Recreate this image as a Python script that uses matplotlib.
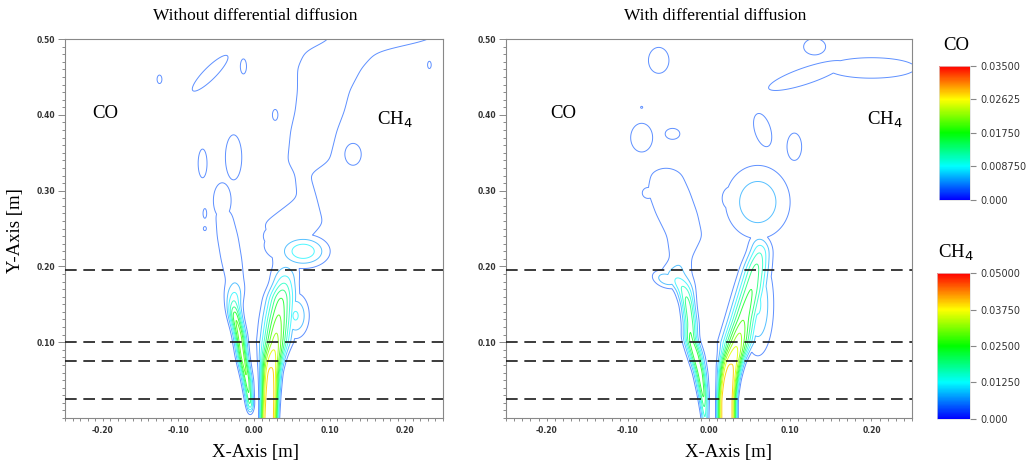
import numpy as np
import matplotlib
matplotlib.use('Agg')
import matplotlib.pyplot as plt
from matplotlib.colors import LinearSegmentedColormap, Normalize
from matplotlib.cm import ScalarMappable
from matplotlib.ticker import MultipleLocator, FixedLocator

plt.rcParams['axes.unicode_minus'] = False

# ---- colour scales -------------------------------------------------------
CO_MAX = 0.035
CH4_MAX = 0.05
co_ticks = [0.0, 0.00875, 0.0175, 0.02625, 0.035]
co_tick_labels = ['0.000', '0.008750', '0.01750', '0.02625', '0.03500']
ch4_ticks = [0.0, 0.0125, 0.025, 0.0375, 0.05]
ch4_tick_labels = ['0.000', '0.01250', '0.02500', '0.03750', '0.05000']

# iso-levels as a fraction of the colour-scale maximum
level_fracs = np.arange(0.08, 0.95, 0.08)

# measurement heights (dashed lines), m
probe_heights = [0.025, 0.075, 0.10, 0.195]

# ---- jet centre-lines: height, centre x, width, peak (fraction of max), profile power
# without differential diffusion, CH4
wo_ch4_y = [0.000, 0.030, 0.060, 0.080, 0.100, 0.130, 0.160, 0.180, 0.200, 0.230, 0.257,
            0.291, 0.322, 0.339, 0.379, 0.405, 0.432, 0.462, 0.484, 0.500]
wo_ch4_x = [0.020, 0.021, 0.022, 0.024, 0.028, 0.032, 0.036, 0.040, 0.042, 0.045, 0.052,
            0.070, 0.064, 0.072, 0.079, 0.087, 0.092, 0.100, 0.115, 0.170]
wo_ch4_w = [0.0095, 0.0095, 0.010, 0.011, 0.012, 0.013, 0.013, 0.012, 0.015, 0.025, 0.040,
            0.013, 0.010, 0.028, 0.031, 0.033, 0.035, 0.043, 0.048, 0.070]
wo_ch4_peak = [0.85, 0.85, 0.82, 0.76, 0.68, 0.58, 0.48, 0.30, 0.14, 0.12, 0.13,
               0.13, 0.13, 0.13, 0.13, 0.13, 0.13, 0.13, 0.13, 0.13]
wo_ch4_pow = [4, 3.5, 3, 2.5, 2, 2, 2, 2, 2, 2, 2, 2, 2, 2, 2, 2, 2, 2, 2, 2]

# without differential diffusion, CO
wo_co_y = [0.004, 0.015, 0.050, 0.080, 0.110, 0.135, 0.150, 0.180, 0.210, 0.240, 0.270, 0.290]
wo_co_x = [-0.005, -0.005, -0.009, -0.015, -0.019, -0.025, -0.027, -0.025, -0.030, -0.035,
           -0.040, -0.042]
wo_co_w = [0.003, 0.0035, 0.0045, 0.005, 0.0055, 0.006, 0.007, 0.011, 0.014, 0.014, 0.012, 0.010]
wo_co_peak = [0.0, 0.40, 0.55, 0.60, 0.60, 0.55, 0.35, 0.14, 0.13, 0.13, 0.12, 0.0]
wo_co_pow = [2] * 12

# with differential diffusion, CH4
w_ch4_y = [0.000, 0.025, 0.050, 0.072, 0.100, 0.130, 0.170, 0.200, 0.222, 0.240, 0.250]
w_ch4_x = [0.022, 0.022, 0.024, 0.027, 0.035, 0.042, 0.052, 0.058, 0.063, 0.062, 0.060]
w_ch4_w = [0.0095, 0.0095, 0.010, 0.011, 0.012, 0.012, 0.012, 0.011, 0.010, 0.010, 0.010]
w_ch4_peak = [0.88, 0.88, 0.85, 0.80, 0.70, 0.55, 0.48, 0.42, 0.30, 0.12, 0.0]
w_ch4_pow = [4, 4, 3.5, 3, 2, 2, 2, 2, 2, 2, 2]

# with differential diffusion, CO
w_co_y = [0.000, 0.030, 0.060, 0.085, 0.105, 0.125, 0.150, 0.170, 0.190, 0.210, 0.240,
          0.270, 0.300, 0.325, 0.340]
w_co_x = [-0.005, -0.007, -0.011, -0.017, -0.023, -0.023, -0.026, -0.030, -0.042, -0.035,
          -0.030, -0.040, -0.050, -0.053, -0.053]
w_co_w = [0.003, 0.004, 0.005, 0.006, 0.006, 0.006, 0.006, 0.008, 0.015, 0.013, 0.022,
          0.026, 0.026, 0.020, 0.012]
w_co_peak = [0.30, 0.50, 0.55, 0.55, 0.50, 0.45, 0.45, 0.35, 0.20, 0.13, 0.13, 0.13, 0.13, 0.12, 0.0]
w_co_pow = [2] * 15

# ---- detached pockets: x, y, sx, sy, peak, tilt (deg)
wo_ch4_px = [0.065, 0.045, 0.025, 0.055, 0.028, 0.131, 0.232]
wo_ch4_py = [0.220, 0.228, 0.240, 0.135, 0.400, 0.348, 0.466]
wo_ch4_sx = [0.022, 0.032, 0.014, 0.012, 0.004, 0.012, 0.003]
wo_ch4_sy = [0.014, 0.022, 0.014, 0.020, 0.008, 0.016, 0.006]
wo_ch4_pa = [0.30, 0.13, 0.12, 0.25, 0.12, 0.12, 0.11]
wo_ch4_pt = [0, 0, 0, 0, 0, 0, 0]

wo_co_px = [-0.058, -0.014, -0.068, -0.027, -0.042, -0.065, -0.125, -0.065]
wo_co_py = [0.455, 0.464, 0.336, 0.344, 0.287, 0.270, 0.447, 0.250]
wo_co_sx = [0.036, 0.0045, 0.0065, 0.012, 0.013, 0.003, 0.004, 0.003]
wo_co_sy = [0.009, 0.011, 0.021, 0.033, 0.026, 0.008, 0.007, 0.004]
wo_co_pa = [0.12, 0.12, 0.12, 0.12, 0.12, 0.11, 0.11, 0.10]
wo_co_pt = [45, 0, 0, 0, 0, 0, 0, 0]

w_ch4_px = [0.060, 0.028, 0.060, 0.066, 0.105, 0.120, 0.200, 0.130]
w_ch4_py = [0.285, 0.290, 0.150, 0.380, 0.358, 0.452, 0.462, 0.490]
w_ch4_sx = [0.028, 0.012, 0.013, 0.011, 0.010, 0.055, 0.060, 0.015]
w_ch4_sy = [0.034, 0.016, 0.045, 0.025, 0.020, 0.012, 0.015, 0.012]
w_ch4_pa = [0.22, 0.13, 0.25, 0.12, 0.12, 0.12, 0.12, 0.12]
w_ch4_pt = [0, 0, 0, 15, 0, 20, 0, 0]

w_co_px = [-0.083, -0.045, -0.062, -0.083, -0.075, -0.052]
w_co_py = [0.370, 0.375, 0.472, 0.410, 0.297, 0.183]
w_co_sx = [0.015, 0.010, 0.014, 0.002, 0.008, 0.013]
w_co_sy = [0.021, 0.008, 0.019, 0.002, 0.008, 0.008]
w_co_pa = [0.12, 0.12, 0.12, 0.10, 0.12, 0.22]
w_co_pt = [0, 0, 0, 0, 0, -20]

rainbow = LinearSegmentedColormap.from_list(
    'bcgyr', ['#0000ff', '#00ffff', '#00ff00', '#ffff00', '#ff0000'])

SERIF = 'Liberation Serif'


def smooth_profile(yg, ys, vals, s=0.005):
    """Interpolate a centre-line quantity onto the grid heights and round off the kinks."""
    v = np.interp(yg, ys, vals)
    dy = yg[1] - yg[0]
    n = int(3 * s / dy)
    k = np.exp(-0.5 * (np.arange(-n, n + 1) * dy / s) ** 2)
    k /= k.sum()
    vp = np.concatenate([np.full(n, v[0]), v, np.full(n, v[-1])])
    return np.convolve(vp, k, mode='valid')


def jet_field(X, Y, ys, xs, ws, peaks, powers):
    yg = Y[:, 0]
    xc = smooth_profile(yg, ys, xs)[:, None]
    w = smooth_profile(yg, ys, ws)[:, None]
    a = smooth_profile(yg, ys, peaks)[:, None]
    p = np.interp(yg, ys, powers)[:, None]
    val = a * np.exp(-0.5 * np.abs((X - xc) / w) ** p)
    return np.where((Y >= ys[0]) & (Y <= ys[-1]), val, 0.0)


def pocket_field(X, Y, px, py, sx, sy, amp, tilt):
    out = np.zeros_like(X)
    for x0, y0, a, b, c, t in zip(px, py, sx, sy, amp, tilt):
        th = np.deg2rad(t)
        dx, dy = X - x0, Y - y0
        u = dx * np.cos(th) + dy * np.sin(th)
        v = -dx * np.sin(th) + dy * np.cos(th)
        out = np.maximum(out, c * np.exp(-0.5 * ((u / a) ** 2 + (v / b) ** 2)))
    return out


def level_colors():
    # thin ParaView-style iso-lines read lighter at the low end of the scale
    cols = []
    for f in level_fracs:
        r, g, b, _ = rainbow(f)
        t = 0.4 * (1 - f)
        cols.append((r + (1 - r) * t, g + (1 - g) * t, b + (1 - b) * t))
    return cols


def style_axes(ax):
    ax.set_xlim(-0.25, 0.25)
    ax.set_ylim(0.0, 0.5)
    ax.xaxis.set_major_locator(FixedLocator([-0.2, -0.1, 0.0, 0.1, 0.2]))
    ax.yaxis.set_major_locator(FixedLocator([0.1, 0.2, 0.3, 0.4, 0.5]))
    ax.xaxis.set_minor_locator(MultipleLocator(0.01))
    ax.yaxis.set_minor_locator(MultipleLocator(0.01))
    ax.xaxis.set_major_formatter(plt.FuncFormatter(lambda v, _: f'{v:.2f}'))
    ax.yaxis.set_major_formatter(plt.FuncFormatter(lambda v, _: f'{v:.2f}'))
    ax.tick_params(which='both', direction='out', colors='#777', labelcolor='#333',
                   labelsize=5.5, width=0.6)
    ax.tick_params(axis='y', which='major', length=5, pad=2)
    ax.tick_params(axis='y', which='minor', length=2.5)
    ax.tick_params(axis='x', which='both', length=2.5, pad=3)
    for lab in ax.get_xticklabels() + ax.get_yticklabels():
        lab.set_fontweight('bold')
    for sp in ax.spines.values():
        sp.set_color('#888')
        sp.set_linewidth(0.8)


def draw_panel(ax, co, ch4):
    lw = 0.7
    cols = level_colors()
    ax.contour(X, Y, co * CO_MAX, levels=level_fracs * CO_MAX, colors=cols, linewidths=lw)
    ax.contour(X, Y, ch4 * CH4_MAX, levels=level_fracs * CH4_MAX, colors=cols, linewidths=lw)
    for h in probe_heights:
        ax.plot([-0.25, 0.25], [h, h], color='#1a1a1a', lw=1.2, dashes=(7, 4),
                clip_on=False, zorder=5)
    style_axes(ax)


X, Y = np.meshgrid(np.linspace(-0.25, 0.25, 701), np.linspace(0.0, 0.5, 701))

wo_co = np.maximum(jet_field(X, Y, wo_co_y, wo_co_x, wo_co_w, wo_co_peak, wo_co_pow),
                   pocket_field(X, Y, wo_co_px, wo_co_py, wo_co_sx, wo_co_sy, wo_co_pa, wo_co_pt))
wo_ch4 = np.maximum(jet_field(X, Y, wo_ch4_y, wo_ch4_x, wo_ch4_w, wo_ch4_peak, wo_ch4_pow),
                    pocket_field(X, Y, wo_ch4_px, wo_ch4_py, wo_ch4_sx, wo_ch4_sy, wo_ch4_pa, wo_ch4_pt))
w_co = np.maximum(jet_field(X, Y, w_co_y, w_co_x, w_co_w, w_co_peak, w_co_pow),
                  pocket_field(X, Y, w_co_px, w_co_py, w_co_sx, w_co_sy, w_co_pa, w_co_pt))
w_ch4 = np.maximum(jet_field(X, Y, w_ch4_y, w_ch4_x, w_ch4_w, w_ch4_peak, w_ch4_pow),
                   pocket_field(X, Y, w_ch4_px, w_ch4_py, w_ch4_sx, w_ch4_sy, w_ch4_pa, w_ch4_pt))

fig = plt.figure(figsize=(10.3, 4.66), dpi=100)
ax_l = fig.add_axes([0.0631, 0.103, 0.367, 0.813])
ax_r = fig.add_axes([0.4913, 0.103, 0.3942, 0.813])

draw_panel(ax_l, wo_co, wo_ch4)
draw_panel(ax_r, w_co, w_ch4)

# panel titles and axis names
fig.text(0.2476, 0.966, 'Without differential diffusion', family=SERIF, fontsize=12.5,
         ha='center', va='center')
fig.text(0.694, 0.966, 'With differential diffusion', family=SERIF, fontsize=12.5,
         ha='center', va='center')
fig.text(0.2476, 0.030, 'X-Axis [m]', family=SERIF, fontsize=13.5, ha='center', va='center')
fig.text(0.707, 0.030, 'X-Axis [m]', family=SERIF, fontsize=13.5, ha='center', va='center')
fig.text(0.0146, 0.506, 'Y-Axis [m]', family=SERIF, fontsize=13.5, ha='center', va='center',
         rotation=90)

# species tags inside each panel
for xl, xr in [(0.102, 0.383), (0.547, 0.859)]:
    fig.text(xl, 0.757, 'CO', family=SERIF, fontsize=13.5, ha='center', va='center')
    fig.text(xr, 0.742, 'CH$_4$', family=SERIF, fontsize=13.5, ha='center', va='center')

# colour bars
for rect, vmax, ticks, labels, name, ty in [
        ([0.9117, 0.571, 0.030, 0.2876], CO_MAX, co_ticks, co_tick_labels, 'CO', 0.903),
        ([0.9097, 0.101, 0.032, 0.313], CH4_MAX, ch4_ticks, ch4_tick_labels, 'CH$_4$', 0.457)]:
    cax = fig.add_axes(rect)
    sm = ScalarMappable(norm=Normalize(0, vmax), cmap=rainbow)
    cb = fig.colorbar(sm, cax=cax, ticks=ticks)
    cb.ax.set_yticklabels(labels)
    cb.ax.tick_params(labelsize=7, colors='#888', labelcolor='#333', length=4, width=0.8)
    cb.outline.set_edgecolor('#ddd')
    cb.outline.set_linewidth(0.5)
    fig.text(rect[0] + rect[2] / 2 + 0.002, ty, name, family=SERIF, fontsize=13.5,
             ha='center', va='center')

fig.savefig('out.png', dpi=100)
